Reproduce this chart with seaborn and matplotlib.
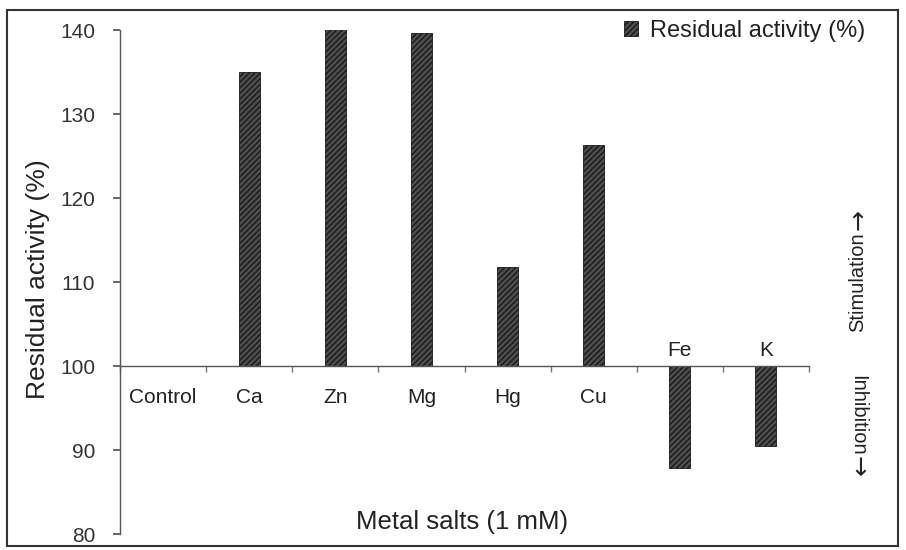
import matplotlib
matplotlib.use("Agg")
import matplotlib.pyplot as plt
from matplotlib.patches import Rectangle
import seaborn as sns
import pandas as pd

# Residual enzyme activity after incubation with 1 mM metal salts
metals = ["Control", "Ca", "Zn", "Mg", "Hg", "Cu", "Fe", "K"]
residual_activity = [100.0, 135.0, 140.2, 139.6, 111.8, 126.3, 87.8, 90.5]
baseline = 100.0
y_ticks = [80, 90, 100, 110, 120, 130, 140]

sns.set_theme(style="white")
plt.rcParams["font.family"] = ["Liberation Sans", "DejaVu Sans"]

df = pd.DataFrame({
    "metal": metals,
    "activity": residual_activity,
})
df["change"] = df["activity"] - baseline

fig = plt.figure(figsize=(9.06, 5.5), dpi=100)
ax = fig.add_axes([120 / 906, 1 - 534 / 550, 689 / 906, 504 / 550])

sns.barplot(
    data=df, x="metal", y="change", ax=ax,
    bottom=baseline, width=0.245,
    color="#4e4e4e", edgecolor="#181818", linewidth=0.6,
    hatch="//////", label="Residual activity (%)",
    saturation=1,
)

ax.set_ylim(80, 140)
ax.set_xlim(-0.5, len(metals) - 0.5)
ax.set_yticks(y_ticks)
ax.set_yticklabels([str(t) for t in y_ticks], fontsize=15, color="#333333")
ax.set_xlabel("")
ax.set_ylabel("")

# x axis sits on the 100 % line; ticks mark category boundaries
ax.spines["bottom"].set_position(("data", baseline))
ax.spines["top"].set_visible(False)
ax.spines["right"].set_visible(False)
for s in ("left", "bottom"):
    ax.spines[s].set_color("#555555")
    ax.spines[s].set_linewidth(1.0)
ax.set_xticks([])
ax.set_xticks([i - 0.5 for i in range(len(metals) + 1)], minor=True)
ax.tick_params(axis="x", which="minor", direction="out", length=4,
               color="#777777", bottom=True)
ax.tick_params(axis="y", direction="out", length=5, color="#555555",
               left=True, pad=13)

# Category names: below the axis for stimulating salts, above for inhibiting ones
for i, (name, val) in enumerate(zip(metals, residual_activity)):
    if val < baseline:
        ax.text(i, 101.8, name, ha="center", va="center", fontsize=15,
                color="#222222")
    else:
        ax.text(i, 96.3, name, ha="center", va="center", fontsize=15,
                color="#222222")

leg = ax.legend(loc="upper left", bbox_to_anchor=(624 / 906, 1 - 20 / 550),
                bbox_transform=fig.transFigure, frameon=False, fontsize=17,
                handlelength=0.6, handleheight=0.6, handletextpad=0.5,
                borderpad=0, borderaxespad=0)
for t in leg.get_texts():
    t.set_color("#222222")

fig.text(38 / 906, 1 - 279 / 550, "Residual activity (%)", rotation=90,
         ha="center", va="center", fontsize=19, color="#222222")
fig.text(462 / 906, 1 - 522 / 550, "Metal salts (1 mM)", ha="center",
         va="center", fontsize=18.5, color="#222222")

# Direction hints on the right-hand side
fig.text(858 / 906, 1 - 282 / 550, "Stimulation", rotation=90,
         ha="center", va="center", fontsize=14.5, color="#222222")
fig.text(858 / 906, 1 - 220 / 550, "\u2192", rotation=90,
         ha="center", va="center", fontsize=18, color="#222222",
         family="DejaVu Sans")
fig.text(858 / 906, 1 - 415 / 550, "Inhibition", rotation=-90,
         ha="center", va="center", fontsize=14.5, color="#222222")
fig.text(858 / 906, 1 - 466 / 550, "\u2192", rotation=-90,
         ha="center", va="center", fontsize=18, color="#222222",
         family="DejaVu Sans")

# Frame around the whole figure
fig.patches.append(Rectangle((7 / 906, 1 - 546 / 550), 891 / 906, 536 / 550,
                             transform=fig.transFigure, fill=False,
                             edgecolor="#333333", linewidth=1.5))

fig.savefig("out.png", dpi=100)
